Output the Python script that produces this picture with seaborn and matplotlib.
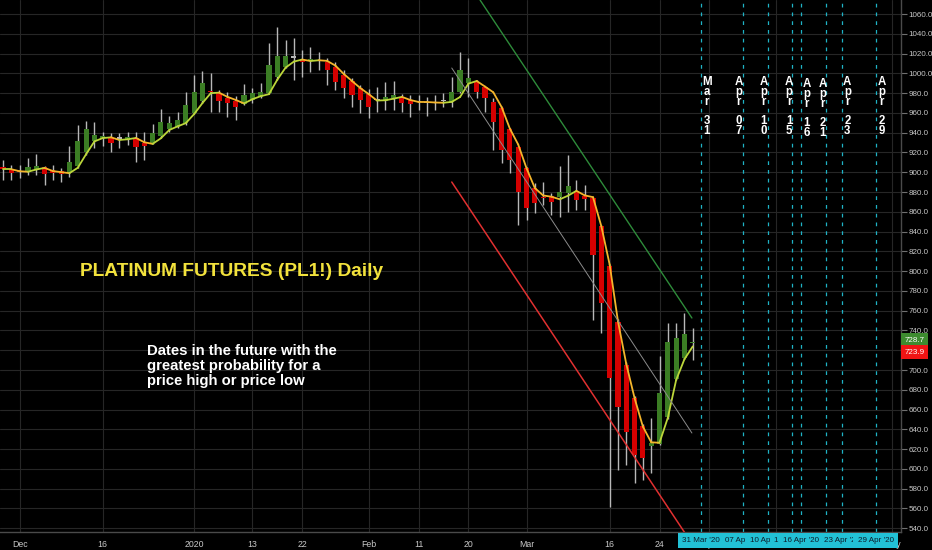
import numpy as np
import pandas as pd
import matplotlib
matplotlib.use("Agg")
import matplotlib.pyplot as plt
import seaborn as sns
from matplotlib.collections import LineCollection
from matplotlib.transforms import blended_transform_factory

# ---- daily platinum futures bars (PL1!) ----
holidays = ["2019-11-28", "2019-12-25", "2020-01-01", "2020-01-20", "2020-02-17"]
sessions = [d for d in pd.bdate_range("2019-11-27", "2020-03-30") if d.strftime("%Y-%m-%d") not in holidays]

opens = [905, 903, 901, 900, 902, 905, 902, 901, 900, 906, 920, 932, 935, 935, 934, 933, 935, 930, 930, 937,
         944, 946, 950, 960, 972, 982, 980, 975, 972, 969, 973, 976, 980, 996, 1006, 1016, 1014, 1013, 1012, 1011,
         1006, 998, 992, 985, 979, 973, 972, 975, 975, 973, 971, 970, 970, 972, 971, 981, 990, 991, 986, 971,
         965, 944, 926, 904, 884, 875, 876, 875, 879, 881, 876, 874, 846, 805, 749, 705, 672, 643, 623, 625,
         652, 691, 712, 727]
highs = [912, 907, 907, 914, 918, 906, 907, 904, 927, 948, 952, 951, 941, 940, 940, 941, 941, 941, 949, 964,
         957, 961, 981, 998, 1002, 1000, 983, 981, 977, 989, 985, 990, 1031, 1047, 1034, 1036, 1024, 1027, 1022, 1016,
         1011, 1003, 995, 988, 984, 986, 991, 992, 979, 978, 978, 976, 978, 980, 996, 1022, 1016, 993, 987, 975,
         966, 945, 927, 905, 889, 890, 879, 906, 917, 892, 887, 875, 847, 806, 752, 708, 674, 645, 651, 714,
         748, 748, 758, 742]
lows = [892, 892, 894, 897, 897, 887, 892, 890, 895, 904, 917, 925, 927, 920, 925, 928, 910, 912, 929, 935,
        941, 945, 948, 959, 970, 961, 961, 956, 953, 968, 970, 975, 979, 993, 1005, 993, 996, 1001, 1003, 988,
        983, 975, 966, 960, 955, 961, 963, 963, 961, 956, 963, 957, 963, 966, 966, 980, 976, 975, 961, 922,
        909, 899, 847, 852, 859, 867, 857, 855, 860, 862, 862, 751, 737, 561, 599, 604, 586, 589, 596, 624,
        650, 690, 711, 710]
closes = [903, 899, 900, 905, 906, 898, 899, 898, 910, 932, 944, 938, 936, 930, 934, 936, 926, 927, 940, 951,
          950, 953, 968, 981, 990, 981, 972, 970, 966, 978, 980, 981, 1008, 1018, 1018, 1016, 1011, 1014, 1012, 1003,
          991, 985, 978, 973, 966, 973, 976, 978, 970, 969, 971, 970, 970, 972, 981, 1003, 995, 981, 975, 951,
          922, 912, 880, 864, 869, 874, 870, 880, 886, 872, 873, 816, 768, 692, 663, 637, 614, 611, 626, 677,
          728, 732, 736.8, 728.7]

# time-axis ticks
tick_dates = ["2019-12-02", "2019-12-16", "2020-01-02", "2020-01-13", "2020-01-22", "2020-02-03", "2020-02-11",
              "2020-02-20", "2020-03-02", "2020-03-16", "2020-03-24", "2020-04-01", "2020-04-13", "2020-05-01"]
tick_labels = ["Dec", "16", "2020", "13", "22", "Feb", "11", "20", "Mar", "16", "24", "Apr", "13", "May"]

# projected turning-point dates
turn_dates = ["2020-03-31", "2020-04-07", "2020-04-10", "2020-04-15", "2020-04-16", "2020-04-21", "2020-04-23",
              "2020-04-29"]

# hand-drawn trend channel: (bar index, price) end points
channel_upper = ([57.4, 82.9], [1074.2, 752.6])
channel_mid = ([54.0, 82.9], [1005.4, 636.3])
channel_lower = ([54.0, 83.5], [890.1, 517.0])

price_ticks = list(range(540, 1061, 20))

# ---- bar index lookup (sessions followed by future weekdays) ----
future = list(pd.bdate_range("2020-03-31", "2020-05-01"))
all_days = sessions + future
pos = {d.strftime("%Y-%m-%d"): i for i, d in enumerate(all_days)}

df = pd.DataFrame({"x": np.arange(len(sessions)), "open": opens, "high": highs, "low": lows, "close": closes})
df["ma"] = df["close"].ewm(span=3, adjust=False).mean().shift(1).fillna(df["close"].iloc[0])

# ---- styling ----
sns.set_theme(style="dark", rc={"axes.facecolor": "black", "figure.facecolor": "black"})
plt.rcParams["font.family"] = ["Liberation Sans", "DejaVu Sans"]

fig = plt.figure(figsize=(9.32, 5.5), dpi=100)
ax = fig.add_axes([0, 18 / 550, 901 / 932, 532 / 550])
ax.set_facecolor("black")

grid_c = "#262626"
for p in price_ticks:
    ax.axhline(p, color=grid_c, lw=0.8, zorder=0)
for d in tick_dates:
    ax.axvline(pos[d], color=grid_c, lw=0.8, zorder=0)

# candles
up_c, dn_c, wick_c = "#3b7d24", "#d40000", "#b8b8b8"
ax.vlines(df["x"], df["low"], df["high"], color=wick_c, lw=1.0, zorder=2)
body_lo = np.minimum(df["open"], df["close"])
body_h = np.maximum(np.abs(df["close"] - df["open"]), 1.2)
body_c = np.where(df["close"] > df["open"] + 0.5, up_c, np.where(df["close"] < df["open"] - 0.5, dn_c, wick_c))
ax.bar(df["x"], body_h, bottom=body_lo, width=0.62, color=body_c, edgecolor="none", zorder=3)

# moving average, coloured by direction
pts = np.column_stack([df["x"], df["ma"]])
segs = np.stack([pts[:-1], pts[1:]], axis=1)
seg_c = np.where(np.diff(df["ma"]) >= 0, "#bcd63a", "#f4b52c")
ax.add_collection(LineCollection(segs, colors=seg_c, linewidths=1.3, zorder=5, capstyle="round"))

# trend channel
chan = pd.DataFrame({
    "x": channel_upper[0] + channel_mid[0] + channel_lower[0],
    "y": channel_upper[1] + channel_mid[1] + channel_lower[1],
    "line": ["upper"] * 2 + ["mid"] * 2 + ["lower"] * 2,
})
sns.lineplot(data=chan, x="x", y="y", hue="line", palette={"upper": "#2e8b3a", "mid": "#8c8c8c", "lower": "#e03030"},
             size="line", sizes={"upper": 1.0, "mid": 0.7, "lower": 1.1}, legend=False, ax=ax, zorder=6,
             estimator=None, sort=False)

# projected dates: dashed markers, stacked labels and time-axis flags
xtr = blended_transform_factory(ax.transData, ax.transAxes)
label_nudge = [0.7, -0.5, -0.5, -0.4, 0.7, -0.4, 0.6, 0.7]
label_top = [997.3, 997.3, 997.3, 997.3, 995.3, 995.3, 997.3, 997.3]
flag_layer = [0, 1, 2, 3, 5, 4, 6, 7]
for i, d in enumerate(turn_dates):
    xi = pos[d]
    ax.axvline(xi, color="#1fb3c6", lw=0.9, ls=(0, (3, 4)), zorder=1)
    ts = pd.Timestamp(d)
    stacked = "\n".join(ts.strftime("%b")) + "\n\n" + "\n".join(ts.strftime("%d"))
    ax.text(xi + label_nudge[i], label_top[i], stacked, ha="center", va="top", color="white",
            fontsize=8.3, fontweight="bold", linespacing=0.76, zorder=7)
    ax.text(xi, -0.016, ts.strftime("%d %b '%y"), transform=xtr, ha="center", va="center",
            fontsize=5.8, color="#0d1b2a", clip_on=False, zorder=10 + flag_layer[i],
            bbox=dict(boxstyle="square,pad=0.52", fc="#22c1d6", ec="none"))

# annotations
ax.text(9.27, 800, "PLATINUM FUTURES (PL1!) Daily", color="#f2e23c", fontsize=13.8, fontweight="bold",
        ha="left", va="center", zorder=8)
ax.text(17.3, 726.5, "Dates in the future with the\ngreatest probability for a\nprice high or price low",
        color="white", fontsize=10.7, fontweight="bold", ha="left", va="top", linespacing=1.08, zorder=8)

# axes
ax.set_xlim(-0.361, 108.06)
ax.set_ylim(536.2, 1074.16)
ax.yaxis.tick_right()
ax.set_yticks(price_ticks)
ax.set_yticklabels([f"{p:.1f}" for p in price_ticks])
ax.set_xticks([pos[d] for d in tick_dates])
ax.set_xticklabels(tick_labels)
ax.tick_params(axis="y", length=4, width=0.8, color="#707070", labelcolor="#c8c8c8", labelsize=5.8, pad=1.5)
ax.tick_params(axis="x", length=3, width=0.8, color="#707070", labelcolor="#c8c8c8", labelsize=6.3, pad=3)
ax.set_xlabel("")
ax.set_ylabel("")
for side in ["top", "left"]:
    ax.spines[side].set_visible(False)
for side in ["right", "bottom"]:
    ax.spines[side].set_visible(True)
    ax.spines[side].set_color("#4a4a4a")
    ax.spines[side].set_linewidth(1.0)

# last price and average value flags on the price scale
ytr = blended_transform_factory(ax.transAxes, ax.transData)
last_close = df["close"].iloc[-1]
last_ma = df["ma"].iloc[-1]
ax.text(1.004, last_close + 1.5, f"{last_close:.1f}", transform=ytr, ha="left", va="center", fontsize=5.8,
        color="white", clip_on=False, zorder=12,
        bbox=dict(boxstyle="square,pad=0.45", fc="#3d8b2f", ec="none"))
ax.text(1.004, min(last_ma, last_close - 10.5), f"{last_ma:.1f}", transform=ytr, ha="left", va="center",
        fontsize=5.8, color="white", clip_on=False, zorder=12,
        bbox=dict(boxstyle="square,pad=0.45", fc="#f01414", ec="none"))

fig.savefig("out.png", dpi=100, facecolor="black")
